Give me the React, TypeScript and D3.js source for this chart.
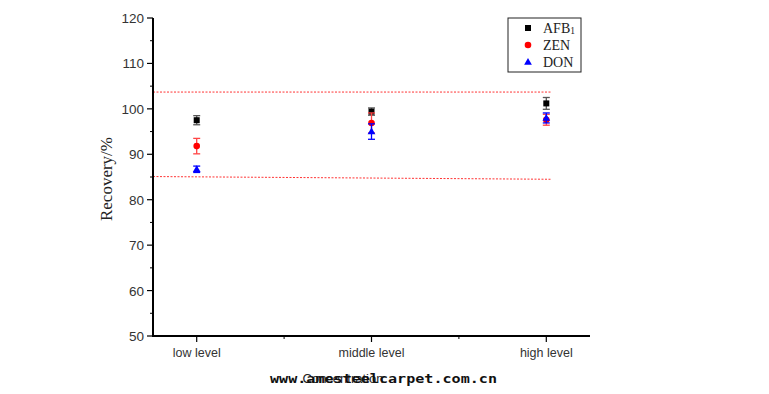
import React from 'react';
import * as d3 from 'd3';

const categories = ['low level', 'middle level', 'high level'];
const seriesNames = ['AFB1', 'ZEN', 'DON'];
const afbMean = [97.5, 99.4, 101.2];
const afbErr = [1.0, 0.8, 1.3];
const zenMean = [91.8, 96.9, 97.6];
const zenErr = [1.7, 2.2, 1.2];
const donMean = [86.7, 95.0, 98.0];
const donErr = [0.7, 1.7, 1.1];
const yTicks = [50, 60, 70, 80, 90, 100, 110, 120];
const upperLine = [103.7, 103.7];
const lowerLine = [85.1, 84.5];

const W = 769;
const H = 394;
const left = 153;
const right = 590;
const top = 18;
const bottom = 336;

export default function App() {
  const x = d3.scaleLinear().domain([0.75, 3.25]).range([left, right]);
  const y = d3.scaleLinear().domain([50, 120]).range([bottom, top]);
  const minorY = d3.range(55, 120, 10);
  const minorX = [1.5, 2.5];

  const series = [
    { name: seriesNames[0], mean: afbMean, err: afbErr, fill: '#000', bar: '#555', shape: 'square' },
    { name: seriesNames[1], mean: zenMean, err: zenErr, fill: '#f00', bar: '#f44', shape: 'circle' },
    { name: seriesNames[2], mean: donMean, err: donErr, fill: '#00f', bar: '#00f', shape: 'triangle' },
  ];

  const refLine = d3.line<number>()
    .x((d, i) => x(i === 0 ? 0.75 : 3.03))
    .y(d => y(d));

  const marker = (shape: string, cx: number, cy: number, fill: string, key: string) => {
    if (shape === 'square') return <rect key={key} x={cx - 3} y={cy - 3} width={6} height={6} fill={fill} />;
    if (shape === 'circle') return <circle key={key} cx={cx} cy={cy} r={3.3} fill={fill} />;
    const sym = d3.symbol().type(d3.symbolTriangle).size(26)();
    return <path key={key} d={sym || ''} transform={`translate(${cx},${cy + 0.5})`} fill={fill} />;
  };

  return (
    <svg width={W} height={H} style={{ position: 'absolute', left: 0, top: 0, background: '#fff' }}>
      {/* reference lines */}
      <path d={refLine(upperLine) || ''} stroke="#f00" strokeWidth={1} strokeDasharray="2,1.5" fill="none" opacity={0.8} />
      <path d={refLine(lowerLine) || ''} stroke="#f00" strokeWidth={1} strokeDasharray="2,1.5" fill="none" opacity={0.8} />

      {/* axes */}
      <line x1={left} x2={left} y1={top} y2={bottom + 1} stroke="#000" strokeWidth={2} />
      <line x1={left - 1} x2={right} y1={bottom} y2={bottom} stroke="#000" strokeWidth={2} />
      {yTicks.map(t => (
        <g key={t}>
          <line x1={left - 6} x2={left} y1={y(t)} y2={y(t)} stroke="#000" strokeWidth={1.2} />
          <text x={left - 9} y={y(t) + 5} textAnchor="end" fontFamily="Liberation Sans, Arial, sans-serif" fontSize={13.5} fill="#333">{t}</text>
        </g>
      ))}
      {minorY.map(t => (
        <line key={t} x1={left - 3} x2={left} y1={y(t)} y2={y(t)} stroke="#000" strokeWidth={1} />
      ))}
      {categories.map((c, i) => (
        <g key={c}>
          <line x1={x(i + 1)} x2={x(i + 1)} y1={bottom} y2={bottom + 6} stroke="#000" strokeWidth={1.2} />
          <text x={x(i + 1)} y={bottom + 21} textAnchor="middle" fontFamily="Liberation Sans, Arial, sans-serif" fontSize={12.5} fill="#333">{c}</text>
        </g>
      ))}
      {minorX.map(t => (
        <line key={t} x1={x(t)} x2={x(t)} y1={bottom} y2={bottom + 3} stroke="#000" strokeWidth={1} />
      ))}

      {/* axis titles */}
      <text transform={`translate(112,179) rotate(-90)`} textAnchor="middle" fontFamily="Liberation Serif, Times New Roman, serif" fontSize={17} fill="#222">Recovery/%</text>
      <text x={343} y={383} textAnchor="middle" fontFamily="Liberation Sans, Arial, sans-serif" fontSize={13} fill="#222">Concentration</text>
      <text x={270} y={383} fontFamily="DejaVu Sans Mono, monospace" fontWeight="bold" fontSize={12.5} fill="#111" textLength={227} lengthAdjust="spacingAndGlyphs">www.amesteelcarpet.com.cn</text>

      {/* error bars + points */}
      {series.map(s => (
        <g key={s.name}>
          {s.mean.map((m, i) => {
            const cx = x(i + 1);
            const y1 = y(m + s.err[i]);
            const y2 = y(m - s.err[i]);
            return (
              <g key={i}>
                <line x1={cx} x2={cx} y1={y1} y2={y2} stroke={s.bar} strokeWidth={1.3} />
                <line x1={cx - 3.5} x2={cx + 3.5} y1={y1} y2={y1} stroke={s.bar} strokeWidth={1.3} />
                <line x1={cx - 3.5} x2={cx + 3.5} y1={y2} y2={y2} stroke={s.bar} strokeWidth={1.3} />
                {marker(s.shape, cx, y(m), s.fill, 'm' + i)}
              </g>
            );
          })}
        </g>
      ))}

      {/* legend */}
      <rect x={508} y={18} width={73} height={54} fill="#fff" stroke="#222" strokeWidth={1} />
      {series.map((s, i) => (
        <g key={s.name}>
          {marker(s.shape, 528, 28 + i * 17, s.fill, 'l' + i)}
          <text x={543} y={33 + i * 17} fontFamily="Liberation Serif, Times New Roman, serif" fontSize={14} fill="#222">
            {i === 0 ? <>AFB<tspan fontSize={9.5} dy={1}>1</tspan></> : s.name}
          </text>
        </g>
      ))}
    </svg>
  );
}
